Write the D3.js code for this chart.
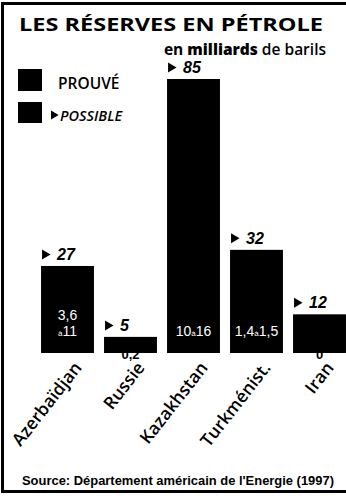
<!DOCTYPE html>
<html>
<head>
<meta charset="utf-8">
<script src="https://cdn.jsdelivr.net/npm/d3@7"></script>
<style>
  html, body { margin: 0; padding: 0; background: #fff; }
  svg { display: block; }
</style>
</head>
<body>
<svg id="chart" width="346" height="496"></svg>
<script>
// data
const countries = ["Azerbaïdjan", "Russie", "Kazakhstan", "Turkménist.", "Iran"];
const possible = [27, 5, 85, 32, 12];
const provenLines = [["3,6", "à11"], ["0,2"], ["10à16"], ["1,4à1,5"], ["0"]];

const W = 346, H = 496;
const svg = d3.select("#chart");
const ink = "#000";
const sans = "'Open Sans', 'DejaVu Sans', sans-serif";

// frame (right side is cut off in the source)
svg.append("rect")
  .attr("x", 2.5).attr("y", 3.5)
  .attr("width", W + 10).attr("height", 488)
  .attr("fill", "none").attr("stroke", ink).attr("stroke-width", 3);

// title
svg.append("text")
  .attr("x", 19).attr("y", 31)
  .attr("font-family", sans).attr("font-weight", 700).attr("font-size", 18.5)
  .attr("textLength", 304).attr("lengthAdjust", "spacingAndGlyphs")
  .attr("fill", ink)
  .text("LES RÉSERVES EN PÉTROLE");

const sub = svg.append("text")
  .attr("x", 326).attr("y", 55)
  .attr("text-anchor", "end")
  .attr("font-family", sans).attr("font-size", 15.5).attr("fill", ink);
sub.append("tspan").attr("font-weight", 700).text("en ");
sub.append("tspan").attr("font-weight", 800).text("milliards");
sub.append("tspan").attr("font-weight", 600).text(" de barils");

// legend
const triangle = (x, y, h) => `M${x},${y - h / 2} L${x + h * 0.85},${y} L${x},${y + h / 2} Z`;
svg.append("rect").attr("x", 18).attr("y", 69).attr("width", 24).attr("height", 22).attr("fill", ink);
svg.append("text")
  .attr("x", 58).attr("y", 89)
  .attr("font-family", sans).attr("font-weight", 600).attr("font-size", 15.5)
  .attr("fill", ink).text("PROUVÉ");
svg.append("rect").attr("x", 18).attr("y", 102).attr("width", 24).attr("height", 21).attr("fill", ink);
svg.append("path").attr("d", triangle(51, 115, 9)).attr("fill", ink);
svg.append("text")
  .attr("x", 60).attr("y", 121)
  .attr("font-family", sans).attr("font-style", "italic").attr("font-weight", 600).attr("font-size", 14.5)
  .attr("fill", ink).text("POSSIBLE");

// scales
const x = d3.scaleBand()
  .domain(countries)
  .range([36, 351])
  .paddingInner(0.16)
  .paddingOuter(0.08);
const y = d3.scaleLinear().domain([0, 85]).range([353, 79]);

const rows = countries.map((c, i) => ({ c, v: possible[i], lines: provenLines[i] }));
const isShort = d => y(0) - y(d.v) < 45;

// small proven values that hang below their bar
const g = svg.append("g");
g.selectAll("text.below")
  .data(rows.filter(isShort))
  .join("text")
  .attr("class", "below")
  .attr("x", d => x(d.c) + x.bandwidth() / 2)
  .attr("y", y(0) + 6)
  .attr("text-anchor", "middle")
  .attr("font-family", "'Liberation Sans', Arial, sans-serif").attr("font-weight", 700).attr("font-size", 13)
  .attr("fill", ink)
  .text(d => d.lines.join(" "));

// bars
g.selectAll("rect.bar")
  .data(rows)
  .join("rect")
  .attr("class", "bar")
  .attr("x", d => x(d.c))
  .attr("y", d => y(d.v))
  .attr("width", x.bandwidth())
  .attr("height", d => y(0) - y(d.v))
  .attr("fill", ink);

// proven values inside bars (white)
rows.filter(d => !isShort(d)).forEach(d => {
  const cx = x(d.c) + x.bandwidth() / 2;
  d.lines.forEach((line, j) => {
    const t = g.append("text")
      .attr("x", cx)
      .attr("y", y(0) - 17 - (d.lines.length - 1 - j) * 16)
      .attr("text-anchor", "middle")
      .attr("font-family", "'Liberation Sans', Arial, sans-serif").attr("font-size", 14)
      .attr("fill", "#fff");
    line.split("à").forEach((part, k) => {
      if (k > 0) t.append("tspan").attr("font-size", 8).text("à");
      t.append("tspan").text(part);
    });
  });
});

// possible value labels above bars
const lab = g.selectAll("g.lab")
  .data(rows)
  .join("g")
  .attr("class", "lab")
  .attr("transform", d => `translate(${x(d.c)},${y(d.v) - 6})`);
lab.append("path").attr("d", triangle(1, -5.5, 10)).attr("fill", ink);
lab.append("text")
  .attr("x", 16).attr("y", 0)
  .attr("font-family", "'Liberation Sans', Arial, sans-serif")
  .attr("font-weight", 700).attr("font-style", "italic").attr("font-size", 16)
  .attr("fill", ink)
  .text(d => d.v);

// rotated country names
g.selectAll("text.cat")
  .data(rows)
  .join("text")
  .attr("class", "cat")
  .attr("transform", d => `translate(${x(d.c) + x.bandwidth() / 2 + 15},368) rotate(-52)`)
  .attr("text-anchor", "end")
  .attr("font-family", sans).attr("font-weight", 600).attr("font-size", 17.5)
  .attr("fill", ink)
  .text(d => d.c);

// source
svg.append("text")
  .attr("x", 22).attr("y", 485)
  .attr("font-family", "'Liberation Sans', Arial, sans-serif").attr("font-weight", 700).attr("font-size", 12)
  .attr("textLength", 312).attr("lengthAdjust", "spacingAndGlyphs")
  .attr("fill", ink)
  .text("Source: Département américain de l'Energie (1997)");
</script>
</body>
</html>
